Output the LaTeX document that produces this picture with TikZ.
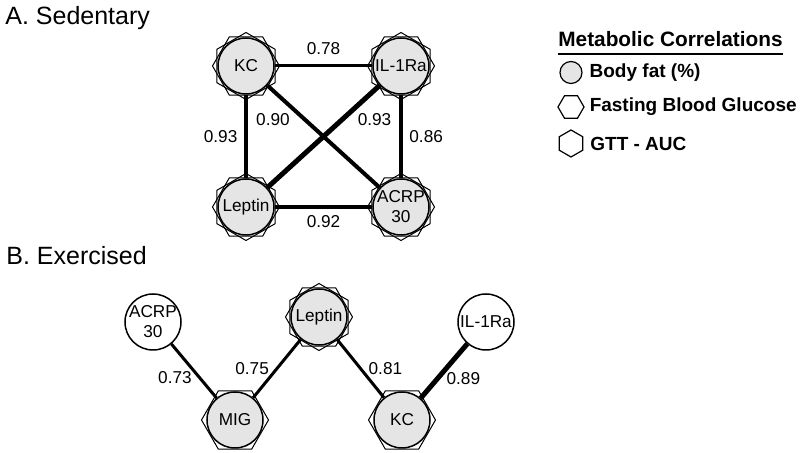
\documentclass[tikz,border=0pt]{standalone}
\usepackage{fontspec}
\setmainfont{Liberation Sans}
\usepackage{tikz}
\usetikzlibrary{positioning, shapes.geometric}

\begin{document}
\begin{tikzpicture}[
    x=0.5pt, y=-0.5pt,
    node distance=70.5pt and 77.5pt, on grid,
    fat/.style={circle, draw, line width=0.75pt, fill=black!10, minimum size=28pt, inner sep=-2pt, align=center, font=\fontsize{8.6}{10}\selectfont},
    plain/.style={fat, fill=white},
    fbg/.style={regular polygon, regular polygon sides=6, draw, line width=0.5pt, minimum size=33.5pt, inner sep=0pt},
    gtt/.style={fbg, shape border rotate=30},
    corr/.style={line width=#1},
    lbl/.style={font=\fontsize{8.6}{10}\selectfont},
    panel/.style={anchor=base west, inner sep=0pt, font=\fontsize{12.5}{15}\selectfont},
    key/.style={on grid=false, font=\bfseries\fontsize{9.5}{11}\selectfont}
]
\useasboundingbox (0,0) rectangle (800,453);

% panel A
\node[panel] (titleA) at (5,25) {A. Sedentary};
\node[fat] (kc) at (246,66) {KC};
\node[fat, right=of kc] (ilra) {IL-1Ra};
\node[fat, below=of kc] (leptin) {Leptin};
\node[fat, below=of ilra] (acrp) {ACRP\\30};

\draw[corr=1.5pt] (kc) -- node[lbl, above=1.5pt] (c1) {0.78} (ilra);
\draw[corr=2pt] (kc) -- node[lbl, left] (c2) {0.93} (leptin);
\draw[corr=1.75pt] (ilra) -- node[lbl, right] (c3) {0.86} (acrp);
\draw[corr=2pt] (leptin) -- node[lbl, below] (c4) {0.92} (acrp);
\draw[corr=2pt] (kc) -- node[lbl, pos=0.33, left=3pt] (c5) {0.90} (acrp);
\draw[corr=2.5pt] (leptin) -- node[lbl, pos=0.67, right=3pt] (c6) {0.93} (ilra);

% panel B
\node[panel] (titleB) at (6,265) {B. Exercised};
\node[plain] (acrpB) at (153,322) {ACRP\\30};
\node[fat, below right=49pt and 41pt of acrpB] (mig) {MIG};
\node[fat, above right=51.5pt and 42pt of mig] (leptinB) {Leptin};
\node[fat, below right=51.5pt and 41.5pt of leptinB] (kcB) {KC};
\node[plain, above right=49pt and 42pt of kcB] (ilraB) {IL-1Ra};

\draw[corr=1.5pt] (acrpB) -- node[lbl, pos=0.63, left] (e1) {0.73} (mig);
\draw[corr=1.5pt] (mig) -- node[lbl, left] (e2) {0.75} (leptinB);
\draw[corr=1.5pt] (leptinB) -- node[lbl, right] (e3) {0.81} (kcB);
\draw[corr=2.5pt] (kcB) -- node[lbl, pos=0.36, right] (e4) {0.89} (ilraB);

% hexagon marks
\foreach \n in {kc, ilra, leptin, acrp, leptinB}
    \node[gtt] (\n-gtt) at (\n) {};
\foreach \n in {kc, ilra, leptin, acrp, leptinB, mig, kcB}
    \node[fbg] (\n-fbg) at (\n) {};

% legend
\node[key, anchor=base west, inner xsep=0pt, inner ysep=3pt, font=\bfseries\fontsize{10.4}{12}\selectfont] (lgtitle) at (558,47) {Metabolic Correlations};
\draw[line width=1pt] (lgtitle.south west) -- (lgtitle.south east);
\node[fat, minimum size=11pt, inner sep=0pt, line width=0.6pt] (lgfat) at (571,72.5) {};
\node[fbg, minimum size=13pt, line width=0.6pt] (lgfbg) at (571,107) {};
\node[gtt, minimum size=13.5pt, line width=0.6pt] (lggtt) at (571,143.5) {};
\node[key, right=0pt of lgfat] (lgfattxt) {Body fat (\%)};
\node[key, right=-1pt of lgfbg] (lgfbgtxt) {Fasting Blood Glucose};
\node[key, right=0pt of lggtt] (lggtttxt) {GTT - AUC};
\end{tikzpicture}
\end{document}
